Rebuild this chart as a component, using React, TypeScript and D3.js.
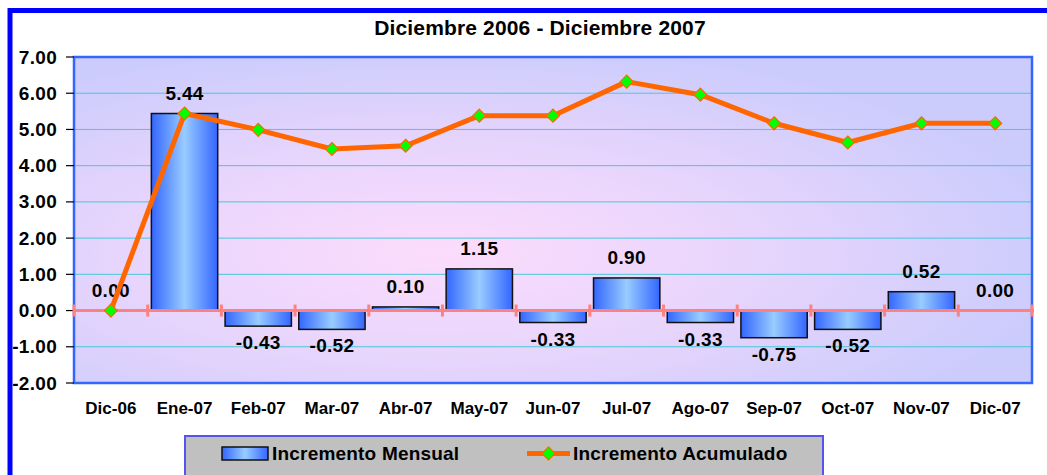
import React from "react";
import * as d3 from "d3";

const categories = ["Dic-06","Ene-07","Feb-07","Mar-07","Abr-07","May-07","Jun-07","Jul-07","Ago-07","Sep-07","Oct-07","Nov-07","Dic-07"];
const mensual = [0.0, 5.44, -0.43, -0.52, 0.10, 1.15, -0.33, 0.90, -0.33, -0.75, -0.52, 0.52, 0.0];
const acumulado = [0.0, 5.44, 4.99, 4.46, 4.55, 5.38, 5.38, 6.32, 5.96, 5.17, 4.64, 5.17, 5.17];
const yTicks = [-2, -1, 0, 1, 2, 3, 4, 5, 6, 7];
const title = "Diciembre 2006 - Diciembre 2007";
const seriesNames = ["Incremento Mensual", "Incremento Acumulado"];

const W = 1047, H = 475;
const plot = { left: 74, top: 57, right: 1032, bottom: 383 };
const FONT = "Arial, 'Liberation Sans', Helvetica, sans-serif";
const fmt = (v: number) => v.toFixed(2);

export default function App() {
  const xb = d3.scaleBand<string>().domain(categories).range([plot.left, plot.right]);
  const y = d3.scaleLinear().domain([-2, 7]).range([plot.bottom, plot.top]);
  const cx = (c: string) => (xb(c) as number) + xb.bandwidth() / 2;
  const bw = xb.bandwidth() * 0.9;
  const line = d3.line<number>().x((_, i) => cx(categories[i])).y(d => y(d));
  const diamond = (px: number, py: number, r: number) => `M${px},${py - r}L${px + r},${py}L${px},${py + r}L${px - r},${py}Z`;
  const bounds = d3.range(categories.length + 1).map(i => plot.left + i * xb.bandwidth());

  return (
    <svg width={W} height={H} style={{ position: "absolute", left: 0, top: 0, background: "#fff" }} fontFamily={FONT}>
      <defs>
        <radialGradient id="bg" cx="0.38" cy="0.6" r="0.65" gradientUnits="objectBoundingBox">
          <stop offset="0" stopColor="#FCDCFC" />
          <stop offset="0.45" stopColor="#EAD6FC" />
          <stop offset="1" stopColor="#CCCCFC" />
        </radialGradient>
        <linearGradient id="bar" x1="0" x2="1" y1="0" y2="0">
          <stop offset="0" stopColor="#3366FF" />
          <stop offset="0.5" stopColor="#99CCFF" />
          <stop offset="1" stopColor="#3366FF" />
        </linearGradient>
      </defs>
      {/* outer frame */}
      <rect x={10} y={10.5} width={W + 20} height={H + 20} fill="#fff" stroke="#0000FF" strokeWidth={5} />
      <text x={540} y={35} textAnchor="middle" fontSize={21} fontWeight="bold" letterSpacing={0.15}>{title}</text>

      {/* plot area */}
      <rect x={plot.left} y={plot.top} width={plot.right - plot.left} height={plot.bottom - plot.top} fill="url(#bg)" />
      {yTicks.filter(t => t !== 0 && t !== -2 && t !== 7).map(t => (
        <line key={t} x1={plot.left} x2={plot.right} y1={y(t)} y2={y(t)} stroke="#48C8D8" strokeWidth={1} />
      ))}
      <rect x={plot.left} y={plot.top} width={plot.right - plot.left} height={plot.bottom - plot.top} fill="none" stroke="#3366FF" strokeWidth={2.5} />

      {/* y axis ticks */}
      {yTicks.map(t => (
        <g key={t}>
          <line x1={plot.left - 8} x2={plot.left} y1={y(t)} y2={y(t)} stroke="#000" strokeWidth={1.2} />
          <text x={plot.left - 17} y={y(t) + 6.5} textAnchor="end" fontSize={19} fontWeight="bold" letterSpacing={0.3}>{fmt(t)}</text>
        </g>
      ))}

      {/* bars */}
      {mensual.map((v, i) => {
        const c = categories[i];
        if (v === 0) return null;
        const x0 = cx(c) - bw / 2;
        return <rect key={c} x={x0} y={Math.min(y(v), y(0))} width={bw} height={Math.abs(y(v) - y(0))} fill="url(#bar)" stroke="#111" strokeWidth={1.5} />;
      })}

      {/* zero axis */}
      <line x1={plot.left} x2={plot.right + 2} y1={y(0)} y2={y(0)} stroke="#FF8080" strokeWidth={3} />
      {bounds.map((b, i) => (
        <line key={i} x1={b} x2={b} y1={y(0) - 6} y2={y(0) + 6} stroke="#FF8080" strokeWidth={3} />
      ))}

      {/* bar labels */}
      {mensual.map((v, i) => {
        const c = categories[i];
        const ly = v >= 0 ? y(v) - 14 : y(v) + 23;
        return <text key={c} x={cx(c)} y={ly} textAnchor="middle" fontSize={19} fontWeight="bold" letterSpacing={0.3}>{fmt(v)}</text>;
      })}

      {/* line */}
      <path d={line(acumulado) || ""} fill="none" stroke="#FF6600" strokeWidth={5} strokeLinejoin="round" />
      {acumulado.map((v, i) => (
        <path key={i} d={diamond(cx(categories[i]), y(v), 6.5)} fill="#00FF00" stroke="#FF6600" strokeWidth={1.2} />
      ))}

      {/* x labels */}
      {categories.map(c => (
        <text key={c} x={cx(c)} y={414} textAnchor="middle" fontSize={17} fontWeight="bold">{c}</text>
      ))}

      {/* legend */}
      <rect x={185} y={436} width={638} height={45} fill="#C0C0C0" stroke="#5555EE" strokeWidth={2} />
      <rect x={222} y={447} width={46} height={13} fill="url(#bar)" stroke="#111" strokeWidth={1.5} />
      <text x={272} y={460} fontSize={19} fontWeight="bold" letterSpacing={0.2}>{seriesNames[0]}</text>
      <line x1={527} x2={570} y1={453.5} y2={453.5} stroke="#FF6600" strokeWidth={5} />
      <path d={diamond(548.5, 453.5, 6.5)} fill="#00FF00" stroke="#FF6600" strokeWidth={1.2} />
      <text x={573} y={460} fontSize={19} fontWeight="bold" letterSpacing={0.2}>{seriesNames[1]}</text>
    </svg>
  );
}
